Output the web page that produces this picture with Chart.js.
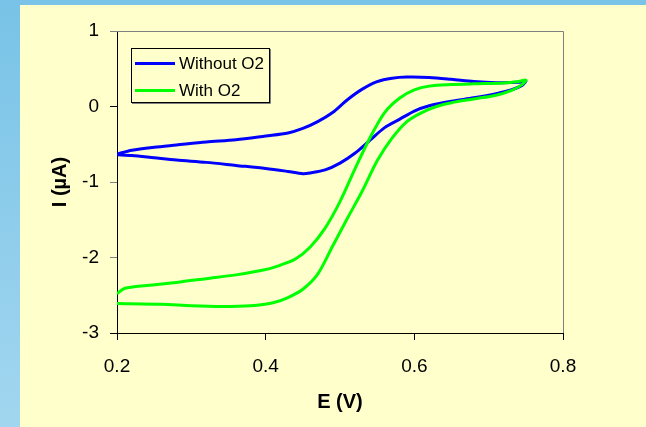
<!DOCTYPE html>
<html>
<head>
<meta charset="utf-8">
<script src="https://cdn.jsdelivr.net/npm/chart.js@4.4.0/dist/chart.umd.min.js"></script>
<style>
html, body { margin: 0; padding: 0; }
body { width: 646px; height: 427px; overflow: hidden; position: relative;
       background: linear-gradient(to bottom, #78c3e7, #a2d6ef); }
#panel { position: absolute; left: 20px; top: 5px; width: 626px; height: 422px; background: #ffffcc; }
#wrap { position: absolute; left: 0; top: 0; width: 646px; height: 427px; }
</style>
</head>
<body>
<div id="panel"></div>
<div id="wrap"><canvas id="cv" width="646" height="427"></canvas></div>
<script>

// cyclic voltammograms, E (V) vs I (uA)
var blueE = [0.20, 0.22, 0.25, 0.28, 0.32, 0.36, 0.40, 0.43, 0.45, 0.47, 0.49, 0.51, 0.53, 0.55, 0.57, 0.59, 0.62, 0.65, 0.68, 0.71, 0.74, 0.75,
             0.745, 0.73, 0.71, 0.68, 0.65, 0.62, 0.60, 0.58, 0.56, 0.54, 0.52, 0.50, 0.48, 0.46, 0.45, 0.43, 0.40, 0.36, 0.32, 0.28, 0.25, 0.22, 0.20];
var blueI = [-0.63, -0.58, -0.54, -0.51, -0.47, -0.44, -0.39, -0.35, -0.29, -0.20, -0.08, 0.09, 0.23, 0.33, 0.375, 0.39, 0.385, 0.36, 0.33, 0.315, 0.32, 0.34,
             0.28, 0.22, 0.17, 0.115, 0.07, 0.01, -0.06, -0.17, -0.28, -0.45, -0.62, -0.75, -0.84, -0.88, -0.89, -0.86, -0.82, -0.78, -0.74, -0.71, -0.68, -0.65, -0.64];

var greenE = [0.20, 0.21, 0.24, 0.28, 0.32, 0.36, 0.40, 0.42, 0.44, 0.46, 0.48, 0.50, 0.52, 0.54, 0.56, 0.58, 0.60, 0.62, 0.65, 0.68, 0.72, 0.74, 0.75,
              0.745, 0.73, 0.71, 0.68, 0.65, 0.63, 0.61, 0.59, 0.57, 0.55, 0.53, 0.51, 0.49, 0.47, 0.45, 0.43, 0.41, 0.38, 0.34, 0.30, 0.26, 0.20];
var greenI = [-2.48, -2.41, -2.37, -2.33, -2.28, -2.23, -2.16, -2.10, -2.02, -1.86, -1.61, -1.26, -0.83, -0.42, -0.08, 0.11, 0.22, 0.27, 0.29, 0.30, 0.31, 0.33, 0.35,
              0.29, 0.21, 0.15, 0.10, 0.05, 0.00, -0.08, -0.20, -0.42, -0.72, -1.12, -1.48, -1.85, -2.22, -2.42, -2.53, -2.60, -2.64, -2.65, -2.64, -2.62, -2.61];

var seriesNames = ['Without O2', 'With O2'];
var xTicks = [0.2, 0.4, 0.6, 0.8];
var yTicks = [1, 0, -1, -2, -3];

function toPoints(xs, ys){
	var pts = [];
	for (var i = 0; i < xs.length; i++){ pts.push({x: xs[i], y: ys[i]}); }
	return pts;
}

var FONT = "'Liberation Sans', Arial, sans-serif";

// grey frame on top and right of the plot
var plotFrame = {
	id: 'plotFrame',
	beforeDatasetsDraw: function(chart){
		var a = chart.chartArea, ctx = chart.ctx;
		ctx.save();
		ctx.strokeStyle = '#808080';
		ctx.lineWidth = 1;
		ctx.beginPath();
		ctx.moveTo(a.left, a.top + 0.5);
		ctx.lineTo(a.right + 0.5, a.top + 0.5);
		ctx.lineTo(a.right + 0.5, a.bottom);
		ctx.stroke();
		ctx.restore();
	}
};

// legend box inside the plot, top left
var boxLegend = {
	id: 'boxLegend',
	afterDraw: function(chart){
		var a = chart.chartArea, ctx = chart.ctx;
		var x = a.left + 14, y = a.top + 17, w = 138, h = 54;
		ctx.save();
		ctx.fillStyle = '#ffffcc';
		ctx.fillRect(x, y, w, h);
		ctx.strokeStyle = '#808080';
		ctx.lineWidth = 1;
		ctx.beginPath();
		ctx.moveTo(x + w + 1.5, y + 1);
		ctx.lineTo(x + w + 1.5, y + h + 1.5);
		ctx.lineTo(x + 1, y + h + 1.5);
		ctx.stroke();
		ctx.strokeStyle = '#000';
		ctx.strokeRect(x + 0.5, y + 0.5, w, h);
		ctx.font = '17px ' + FONT;
		ctx.textBaseline = 'middle';
		ctx.fillStyle = '#000';
		chart.data.datasets.forEach(function(ds, i){
			var ly = y + 15.5 + i * 27;
			ctx.strokeStyle = ds.borderColor;
			ctx.lineWidth = 3;
			ctx.beginPath();
			ctx.moveTo(x + 4, ly);
			ctx.lineTo(x + 44, ly);
			ctx.stroke();
			ctx.fillText(ds.label, x + 48, ly + 1);
		});
		ctx.restore();
	}
};

var chart_settings = {
	type: 'scatter',
	data: {
		datasets: [{
			label: seriesNames[0],
			data: toPoints(blueE, blueI),
			showLine: true,
			borderColor: '#0000ff',
			borderWidth: 3,
			pointRadius: 0,
			tension: 0.3,
			order: 1
		}, {
			label: seriesNames[1],
			data: toPoints(greenE, greenI),
			showLine: true,
			borderColor: '#00ff00',
			borderWidth: 3,
			pointRadius: 0,
			tension: 0.3,
			order: 0
		}]
	},
	options: {
		responsive: false,
		animation: false,
		layout: { padding: { left: 47, top: 31, right: 83, bottom: 13 } },
		plugins: { legend: { display: false }, tooltip: { enabled: false } },
		scales: {
			x: {
				type: 'linear', min: 0.2, max: 0.8,
				afterBuildTicks: function(s){ s.ticks = xTicks.map(function(v){ return {value: v}; }); },
				afterFit: function(s){ s.height = 81; },
				border: { color: '#000', width: 1 },
				grid: { drawOnChartArea: false, drawTicks: true, tickLength: 7, color: '#000' },
				ticks: { color: '#000', padding: 15, font: { family: FONT, size: 19 },
					callback: function(v){ return v.toFixed(1); } },
				title: { display: true, text: 'E (V)', color: '#000', padding: { top: 0, bottom: 0 },
					font: { family: FONT, size: 20, weight: 'bold' } }
			},
			y: {
				type: 'linear', min: -3, max: 1,
				afterBuildTicks: function(s){ s.ticks = yTicks.map(function(v){ return {value: v}; }); },
				afterFit: function(s){ s.width = 70; },
				border: { color: '#000', width: 1 },
				grid: { drawOnChartArea: false, drawTicks: true, tickLength: 7,
					color: function(c){ return (c.tick && (c.tick.value === 0 || c.tick.value === -3)) ? '#000' : '#808080'; } },
				ticks: { color: '#000', padding: 11, font: { family: FONT, size: 19 } },
				title: { display: true, text: 'I (µA)', color: '#000', padding: { top: 1, bottom: 0 },
					font: { family: FONT, size: 20, weight: 'bold' } }
			}
		}
	},
	plugins: [plotFrame, boxLegend]
};

var chart_cv = new Chart(document.getElementById('cv'), chart_settings);

</script>
</body>
</html>
